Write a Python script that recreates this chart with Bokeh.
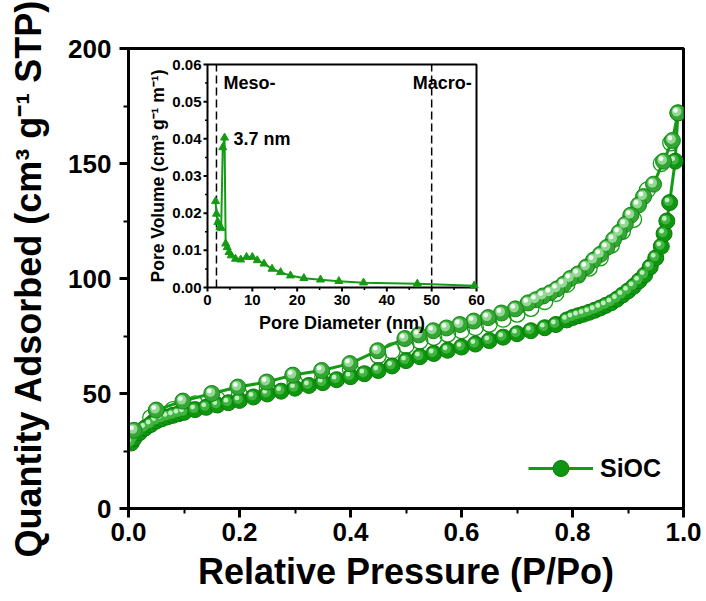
import numpy as np
from bokeh.plotting import figure
from bokeh.models import (Range1d, FixedTicker, NumeralTickFormatter, Legend,
                          LegendItem, ColumnDataSource)
from bokeh.transform import dodge
from bokeh.core.properties import value
from bokeh.embed import file_html
from bokeh.resources import INLINE

# ---------------- data ----------------
ads_p = [0.005, 0.01, 0.02, 0.03, 0.04, 0.05, 0.06, 0.07, 0.08, 0.09,
         0.10, 0.12, 0.14, 0.16, 0.18, 0.20,
         0.225, 0.25, 0.275, 0.30, 0.325, 0.35, 0.375, 0.40, 0.425, 0.45, 0.475, 0.50,
         0.525, 0.55, 0.575, 0.60, 0.625, 0.65, 0.675, 0.70, 0.725, 0.75,
         0.77, 0.79, 0.80, 0.81, 0.82, 0.83, 0.84, 0.85, 0.86, 0.87, 0.88, 0.89, 0.90,
         0.91, 0.92, 0.93, 0.94, 0.95, 0.96, 0.965, 0.97, 0.975, 0.985, 0.99]
ads_v = [28.5, 30.5, 33.0, 35.0, 36.5, 38.0, 39.0, 39.8, 40.5, 41.2,
         41.8, 43.0, 44.0, 45.0, 46.0, 47.0,
         48.5, 49.8, 51.0, 52.3, 53.5, 54.7, 56.0, 57.3, 58.6, 60.0, 62.0, 64.3,
         66.0, 67.4, 68.8, 70.2, 71.5, 73.0, 74.5, 76.0, 77.3, 78.6,
         80.0, 82.0, 83.0, 83.8, 84.5, 85.3, 86.2, 87.2, 88.3, 89.5, 91.0, 92.8, 94.6,
         96.6, 99.0, 101.5, 105.0, 109.0, 114.0, 119.5, 125.0, 133.0, 151.0, 172.0]

des_p = [0.99, 0.98, 0.964, 0.946, 0.928, 0.919, 0.905, 0.895, 0.884, 0.874,
         0.862, 0.85, 0.838, 0.825, 0.81, 0.796, 0.784, 0.772, 0.76, 0.747,
         0.734, 0.72, 0.697, 0.672, 0.648, 0.622, 0.597, 0.573, 0.549, 0.523,
         0.498, 0.449, 0.399, 0.348, 0.296, 0.249, 0.197, 0.15, 0.098, 0.05, 0.01]
des_v = [172, 160, 151, 141, 135.6, 132, 127.5, 123.5, 120, 117,
         113.5, 110.5, 108, 105, 102, 100, 97.5, 95.5, 93.8, 92.4,
         90.8, 89.4, 86.8, 85, 83, 81.5, 80, 78.5, 77.3, 75.5,
         73.9, 68.6, 63, 60, 58, 55, 52.8, 50, 46.7, 42.8, 34]

open_p = [0.977, 0.96, 0.935, 0.91, 0.89, 0.87, 0.85, 0.83, 0.81, 0.79,
          0.77, 0.75, 0.725, 0.70, 0.675, 0.65, 0.625, 0.60, 0.575, 0.55,
          0.525, 0.50, 0.475, 0.45, 0.40, 0.35, 0.30, 0.25, 0.20, 0.16,
          0.12, 0.08, 0.04]
open_v = [159, 150, 138.5, 125.7, 120.5, 114.5, 109, 104.5, 101.5, 97.5,
          93.5, 90, 87, 84.5, 82.3, 80.2, 78.7, 77.3, 75.8, 74.4,
          72.8, 70.8, 68.5, 66.5, 60.5, 57, 54.5, 52, 49.5, 47.5,
          45.5, 43.0, 39.5]

psd_d = [1.8, 2.0, 2.3, 2.75, 3.05, 3.4, 3.8, 4.05, 4.4, 4.8, 5.3, 6.25, 7.4, 8.7,
         10.0, 11.1, 12.6, 14.4, 16.3, 18.5, 21.5, 25.2, 29.3, 34.8, 46.8, 59.5]
psd_v = [0.0232, 0.0198, 0.0176, 0.0162, 0.0160, 0.0377, 0.0403, 0.0118, 0.0108, 0.0095,
         0.0086, 0.0077, 0.0075, 0.0082, 0.0082, 0.0073, 0.0064, 0.0050, 0.0041, 0.0032,
         0.0025, 0.0021, 0.0017, 0.0013, 0.0010, 0.0005]

x_ticks = [0.0, 0.2, 0.4, 0.6, 0.8, 1.0]
x_minor = [0.1, 0.3, 0.5, 0.7, 0.9]
y_ticks = [0, 50, 100, 150, 200]
y_minor = [25, 75, 125, 175]

ix_ticks = [0, 10, 20, 30, 40, 50, 60]
ix_minor = [5, 15, 25, 35, 45, 55]
iy_ticks = [0.00, 0.01, 0.02, 0.03, 0.04, 0.05, 0.06]
iy_minor = [0.005, 0.015, 0.025, 0.035, 0.045, 0.055]
iy_labels = ["0.00", "0.01", "0.02", "0.03", "0.04", "0.05", "0.06"]

boundary_d = [2, 50]
boundary_names = ["Meso-", "Macro-"]
peak_text = "3.7 nm"
series_name = "SiOC"
x_title = "Relative Pressure (P/Po)"
y_title = "Quantity Adsorbed (cm³ g⁻¹ STP)"

# ---------------- layout constants ----------------
W, H = 706, 601
FL, FR, FT, FB = 128, 683, 48, 508          # main frame pixel edges
IL, IR, IT, IB = 207, 476, 64, 287          # inset box pixel edges
GREEN = "#149b14"
FONT = "Liberation Sans"
SPH = 16

p = figure(width=W, height=H, x_range=Range1d(x_ticks[0], x_ticks[-1]),
           y_range=Range1d(y_ticks[0], y_ticks[-1]),
           output_backend="svg", toolbar_location=None,
           min_border_left=FL, min_border_right=W - FR,
           min_border_top=FT, min_border_bottom=H - FB)
p.background_fill_color = "white"
p.border_fill_color = "white"
p.outline_line_color = "black"
p.outline_line_width = 3
p.grid.visible = False

for ax in (p.xaxis[0], p.yaxis[0]):
    ax.axis_line_width = 3
    ax.major_tick_line_width = 3
    ax.minor_tick_line_width = 2
    ax.major_tick_out = 9
    ax.major_tick_in = 0
    ax.minor_tick_out = 5
    ax.minor_tick_in = 0
    ax.major_label_text_font = FONT
    ax.major_label_text_font_style = "bold"
    ax.major_label_text_font_size = "26px"
    ax.major_label_text_color = "black"
    ax.axis_label_text_font = FONT
    ax.axis_label_text_font_style = "bold"
    ax.axis_label_text_font_size = "36px"
    ax.axis_label_text_color = "black"

p.xaxis.ticker = FixedTicker(ticks=x_ticks, minor_ticks=x_minor)
p.yaxis.ticker = FixedTicker(ticks=y_ticks, minor_ticks=y_minor)
p.xaxis.formatter = NumeralTickFormatter(format="0.0")
p.xaxis.axis_label = x_title
p.yaxis.axis_label = y_title
p.xaxis.major_label_standoff = 5
p.xaxis.axis_label_standoff = 7
p.yaxis.major_label_standoff = 8
p.yaxis.axis_label_standoff = 16

# pixel -> data scale for main frame
kx = (x_ticks[-1] - x_ticks[0]) / (FR - FL)
ky = (y_ticks[-1] - y_ticks[0]) / (FB - FT)

# ---------------- main isotherm ----------------
ads_src = ColumnDataSource(dict(p=ads_p, v=ads_v))
des_src = ColumnDataSource(dict(p=des_p, v=des_v))

p.scatter(open_p, open_v, marker="circle", size=SPH, fill_color=None,
          line_color=GREEN, line_width=1.3)

ads_line = p.line("p", "v", source=ads_src, color=GREEN, line_width=3)
des_line = p.line("p", "v", source=des_src, color=GREEN, line_width=3)


def spheres(src, base, rim, mid, hi, size):
    r1 = p.scatter("p", "v", source=src, marker="circle", size=size,
                   fill_color=base, line_color=rim, line_width=1)
    r2 = p.scatter(x=dodge("p", -1.3 * kx), y=dodge("v", 1.3 * ky), source=src,
                   marker="circle", size=size * 0.6, fill_color=mid, line_color=None)
    r3 = p.scatter(x=dodge("p", -2.5 * kx), y=dodge("v", 2.5 * ky), source=src,
                   marker="circle", size=size * 0.3, fill_color=hi, line_color=None)
    return [r1, r2, r3]


ads_sph = spheres(ads_src, "#0f960f", "#0a7a0a", "#40b440", "#c0f0c0", SPH)
des_sph = spheres(des_src, "#35a635", "#0f8a0f", "#92d892", "#f2fcf2", SPH)

# legend markers are drawn at 0.4 * glyph box size -> glyph_height 40 gives a 16 px sphere
legend = Legend(items=[LegendItem(label=series_name, renderers=[ads_line, ads_sph[0]])],
                location=(400, 20), padding=0, margin=0, spacing=0,
                glyph_width=65, glyph_height=40, label_standoff=7,
                label_text_font=FONT, label_text_font_style="bold",
                label_text_font_size="25px", label_text_color="black",
                border_line_alpha=0, background_fill_alpha=0)
p.add_layout(legend)

# ---------------- inset (drawn on extra ranges) ----------------
kxi = (ix_ticks[-1] - ix_ticks[0]) / (IR - IL)
kyi = (iy_ticks[-1] - iy_ticks[0]) / (IB - IT)
p.extra_x_ranges = {"ix": Range1d(ix_ticks[0] - (IL - FL) * kxi, ix_ticks[-1] + (FR - IR) * kxi)}
p.extra_y_ranges = {"iy": Range1d(iy_ticks[0] - (FB - IB) * kyi, iy_ticks[-1] + (IT - FT) * kyi)}
R = dict(x_range_name="ix", y_range_name="iy")

x0, x1 = ix_ticks[0], ix_ticks[-1]
y0, y1 = iy_ticks[0], iy_ticks[-1]

p.quad(left=[x0], right=[x1], bottom=[y0], top=[y1], fill_color="white",
       line_color="black", line_width=2, **R)

# ticks
p.segment(x0=ix_ticks, y0=[y0] * len(ix_ticks), x1=ix_ticks,
          y1=[y0 - 4 * kyi] * len(ix_ticks), line_color="black", line_width=2, **R)
p.segment(x0=ix_minor, y0=[y0] * len(ix_minor), x1=ix_minor,
          y1=[y0 - 2.5 * kyi] * len(ix_minor), line_color="black", line_width=1.5, **R)
p.segment(x0=[x0] * len(iy_ticks), y0=iy_ticks, x1=[x0 - 4 * kxi] * len(iy_ticks),
          y1=iy_ticks, line_color="black", line_width=2, **R)
p.segment(x0=[x0] * len(iy_minor), y0=iy_minor, x1=[x0 - 2.5 * kxi] * len(iy_minor),
          y1=iy_minor, line_color="black", line_width=1.5, **R)

tick_font = dict(text_font=value(FONT), text_font_style="bold",
                 text_font_size=value("15px"), text_color="black")
p.text(x=ix_ticks, y=[y0 - 7 * kyi] * len(ix_ticks), text=[str(t) for t in ix_ticks],
       text_align="center", text_baseline="top", **tick_font, **R)
p.text(x=[x0 - 6 * kxi] * len(iy_ticks), y=iy_ticks, text=iy_labels,
       text_align="right", text_baseline="middle", **tick_font, **R)

title_font = dict(text_font=value(FONT), text_font_style="bold",
                  text_font_size=value("18px"), text_color="black")
p.text(x=[(x0 + x1) / 2], y=[y0 - 35 * kyi], text=["Pore Diameter (nm)"],
       text_align="center", text_baseline="middle", **title_font, **R)
p.text(x=[x0 - 50 * kxi], y=[(y0 + y1) / 2], text=["Pore Volume (cm³ g⁻¹ m⁻¹)"],
       angle=np.pi / 2, text_align="center", text_baseline="middle",
       text_font=value(FONT), text_font_style="bold", text_font_size=value("17.5px"),
       text_color="black", **R)

# boundaries
p.segment(x0=boundary_d, y0=[y0] * 2, x1=boundary_d, y1=[y1] * 2,
          line_color="black", line_width=1.5, line_dash="8 4", **R)
p.text(x=[boundary_d[0] + 7 * kxi, boundary_d[1] - 19 * kxi], y=[y1 - 18 * kyi] * 2,
       text=boundary_names, text_align="left", text_baseline="middle", **title_font, **R)

# PSD curve
p.line(psd_d, psd_v, color=GREEN, line_width=2, **R)
p.scatter(psd_d, psd_v, marker="triangle", size=8, fill_color=GREEN,
          line_color=GREEN, **R)

ipk = int(np.argmax(psd_v))
p.text(x=[psd_d[ipk] + 9 * kxi], y=[psd_v[ipk] - 1 * kyi], text=[peak_text],
       text_align="left", text_baseline="middle", **title_font, **R)

open("out.html", "w").write(file_html(p, INLINE))
